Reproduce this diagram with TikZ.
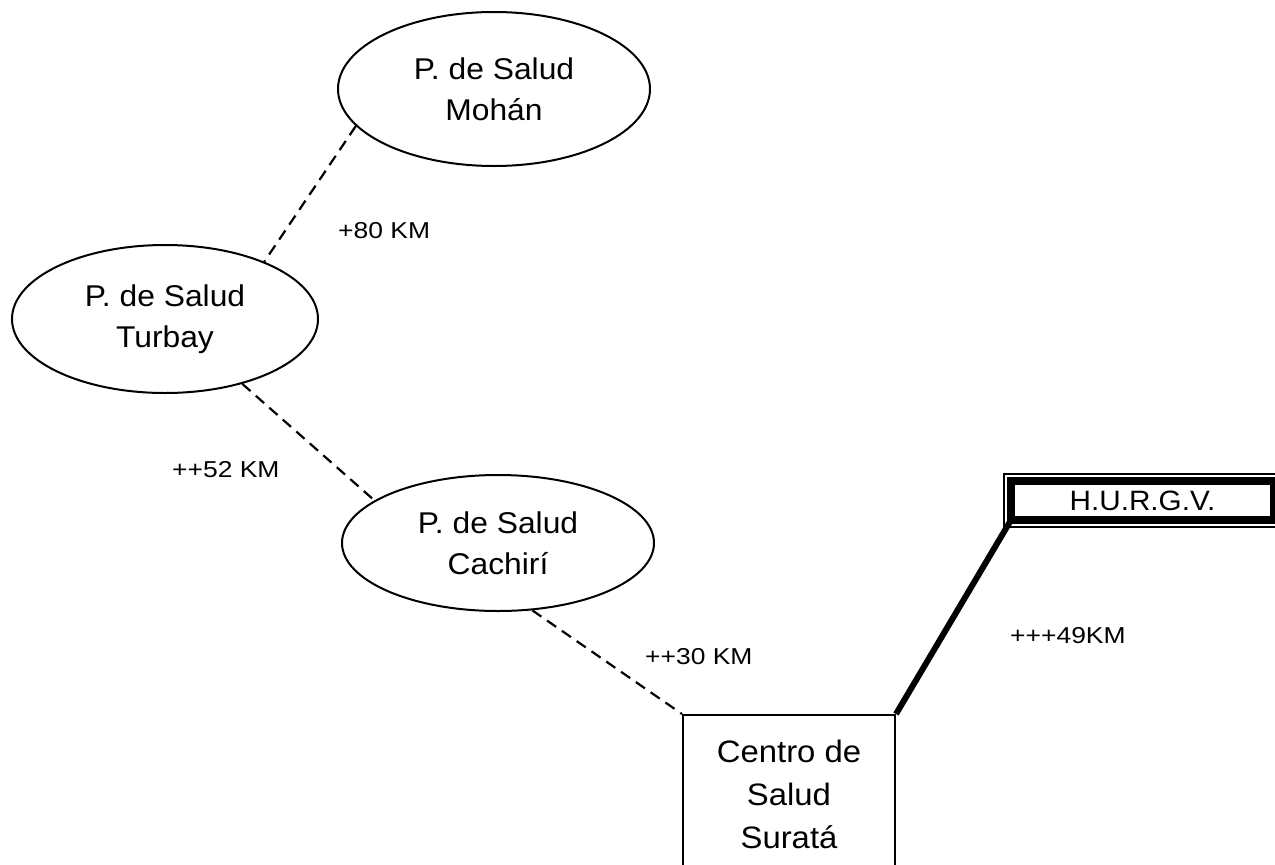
\documentclass[tikz,border=0pt]{standalone}
\usepackage{fontspec}
\setmainfont{Liberation Sans}[FakeStretch=1.06]
\newfontfamily\lblfont{Liberation Sans}[FakeStretch=1.15]
\usetikzlibrary{shapes.geometric}
\begin{document}
\begin{tikzpicture}[x=1pt,y=-1pt,
  place/.style={draw, ellipse, line width=2pt, inner sep=0pt, align=center, font=\fontsize{30}{41}\selectfont},
  dist/.style={inner sep=0pt, font=\lblfont\fontsize{23}{28}\selectfont},
  road/.style={line width=2.2pt, dash pattern=on 11pt off 7pt},
  mainroad/.style={line width=6pt},
  centre/.style={draw, line width=2pt, align=center, font=\fontsize{31}{43}\selectfont},
  hospital/.style={draw, line width=7.5pt, outer sep=0pt, inner sep=0pt, font=\fontsize{28}{32}\selectfont},
]
\useasboundingbox (0,0) rectangle (1275,865);
\clip (0,0) rectangle (1275,865);
\node[place, minimum width=312pt, minimum height=154pt] (mohan) at (494,89) {P. de Salud\\Mohán};
\node[place, minimum width=306pt, minimum height=148pt] (turbay) at (165,319) {P. de Salud\\Turbay};
\node[place, minimum width=312pt, minimum height=136pt] (cachiri) at (498,543) {P. de Salud\\Cachirí};
\node[centre, minimum width=212pt, minimum height=159pt] (surata) at (789,794.5) {Centro de\\Salud\\Suratá};
\node[hospital, minimum width=263pt, minimum height=39pt] (hurgv) at (1142.5,500.5) {H.U.R.G.V.};
\draw[line width=1.6pt] ([shift={(-7,-7)}]hurgv.north west) rectangle ([shift={(7,7)}]hurgv.south east);
\draw[road] (mohan.195) -- (turbay.30);
\draw[road] (turbay.320) -- (cachiri.161);
\draw[road] (cachiri.297) -- (surata.north west);
\draw[mainroad] (surata.north east) -- (hurgv.south west);
\node[dist, anchor=base west] (l80) at (338,238) {+80 KM};
\node[dist, anchor=base west] (l52) at (172,477) {++52 KM};
\node[dist, anchor=base west] (l30) at (645,664) {++30 KM};
\node[dist, anchor=base west] (l49) at (1010,643) {+++49KM};
\end{tikzpicture}
\end{document}
